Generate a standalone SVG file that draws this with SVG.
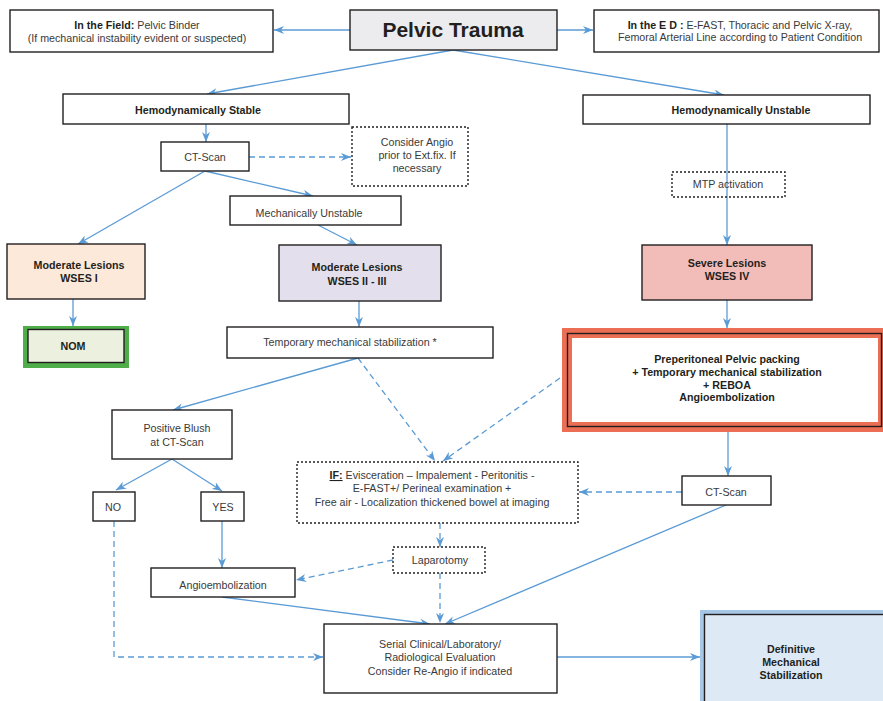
<svg xmlns="http://www.w3.org/2000/svg" width="883" height="701" viewBox="0 0 883 701">
  <defs>
    <marker id="ah" viewBox="0 0 10 8" refX="10" refY="4" markerWidth="10" markerHeight="8" orient="auto" markerUnits="userSpaceOnUse">
      <path d="M0,0 L10,4 L0,8 L3,4 z" fill="#5b9bd5"/>
    </marker>
    <style>
      text { font-family: "Liberation Sans", Arial, sans-serif; font-size: 10.7px; fill: #3a3a3a; text-anchor: middle; }
      .b { font-weight: bold; fill: #231f20; }
      .box { fill: #ffffff; stroke: #231f20; stroke-width: 1.4; }
      .dot { fill: none; stroke: #231f20; stroke-width: 1.4; stroke-dasharray: 2 2; }
      .c { fill: none; stroke: #5b9bd5; stroke-width: 1.3; marker-end: url(#ah); }
      .cn { fill: none; stroke: #5b9bd5; stroke-width: 1.3; }
      .d { stroke-dasharray: 6 4; }
    </style>
  </defs>
  <rect width="883" height="701" fill="#ffffff"/>

  <!-- connectors -->
  <g id="connectors">
    <path class="c" d="M350,30 L274,30"/>
    <path class="c" d="M557,30 L593,30"/>
    <path class="c" d="M453,50 L207,94"/>
    <path class="c" d="M453,50 L724,95"/>
    <path class="c" d="M206,124 L206,142"/>
    <path class="c d" d="M249,157 L351,157"/>
    <path class="c" d="M205,171 L313,196"/>
    <path class="c" d="M205,171 L78,244"/>
    <path class="c" d="M318,225 L357,245"/>
    <path class="c" d="M73,299 L73,326"/>
    <path class="c" d="M359,301 L359,327"/>
    <path class="c" d="M727,124 L727,245"/>
    <path class="c" d="M727,300 L727,328"/>
    <path class="c" d="M358,358 L173,410"/>
    <path class="c d" d="M358,358 L435,461"/>
    <path class="c d" d="M560,378 L443,461"/>
    <path class="c" d="M172,459 L116,490"/>
    <path class="c" d="M172,459 L222,491"/>
    <path class="c" d="M222,521 L222,568"/>
    <path class="c d" d="M114,521 L114,657 L323,657"/>
    <path class="c d" d="M393,560 L296,580"/>
    <path class="c d" d="M440,523 L440,547"/>
    <path class="c d" d="M440,573 L440,623"/>
    <path class="c" d="M728,432 L728,476"/>
    <path class="c d" d="M682,492 L579,492"/>
    <path class="c" d="M222,597 L430,624"/>
    <path class="c" d="M726,505 L445,624"/>
    <path class="c" d="M557,657 L700,657"/>
  </g>

  <g id="pelvic-trauma">
    <rect class="box" x="350" y="10" width="207" height="40" style="fill:#ececee"/>
    <text class="b" x="453" y="37" style="font-size:21px">Pelvic Trauma</text>
  </g>

  <g id="in-the-field">
    <rect class="box" x="10" y="10" width="263" height="42"/>
    <text x="137" y="29"><tspan class="b">In the Field:</tspan> Pelvic Binder</text>
    <text x="137" y="42">(If mechanical instability evident or suspected)</text>
  </g>

  <g id="in-the-ed">
    <rect class="box" x="594" y="10" width="285" height="42"/>
    <text x="740" y="29"><tspan class="b">In the E D :</tspan> E-FAST, Thoracic and Pelvic X-ray,</text>
    <text x="740" y="41">Femoral Arterial Line according to Patient Condition</text>
  </g>

  <g id="hemo-stable">
    <rect class="box" x="63" y="94" width="286" height="30"/>
    <text class="b" x="198" y="114">Hemodynamically Stable</text>
  </g>

  <g id="hemo-unstable">
    <rect class="box" x="583" y="95" width="287" height="29"/>
    <text class="b" x="741" y="114">Hemodynamically Unstable</text>
  </g>

  <g id="ct-scan-1">
    <rect class="box" x="161" y="142" width="88" height="29"/>
    <text x="205" y="161">CT-Scan</text>
  </g>

  <g id="consider-angio">
    <rect class="dot" x="352" y="127" width="116" height="59"/>
    <text x="417" y="146">Consider Angio</text>
    <text x="417" y="159">prior to Ext.fix. If</text>
    <text x="417" y="172">necessary</text>
  </g>

  <g id="mech-unstable">
    <rect class="box" x="230" y="196" width="171" height="29"/>
    <text x="309" y="217">Mechanically Unstable</text>
  </g>

  <g id="moderate-1">
    <rect class="box" x="7" y="244" width="138" height="55" style="fill:#fde9d9"/>
    <text class="b" x="79" y="269">Moderate Lesions</text>
    <text class="b" x="79" y="282">WSES I</text>
  </g>

  <g id="nom">
    <rect x="23" y="326" width="106" height="42" fill="#4fae4a"/>
    <rect class="box" x="28" y="329.5" width="96" height="33" style="fill:#ebf1de"/>
    <text class="b" x="73" y="350">NOM</text>
  </g>

  <g id="moderate-2-3">
    <rect class="box" x="279" y="245" width="162" height="56" style="fill:#e4dfec"/>
    <text class="b" x="357" y="271">Moderate Lesions</text>
    <text class="b" x="357" y="285">WSES II - III</text>
  </g>

  <g id="temp-stabilization">
    <rect class="box" x="227" y="327" width="266" height="31"/>
    <text x="350" y="346">Temporary mechanical stabilization *</text>
  </g>

  <g id="mtp">
    <rect class="dot" x="672" y="172" width="113" height="25"/>
    <text x="728" y="188">MTP activation</text>
  </g>

  <g id="severe">
    <rect class="box" x="642" y="245" width="170" height="55" style="fill:#f2bcb9"/>
    <text class="b" x="727" y="267">Severe Lesions</text>
    <text class="b" x="727" y="280">WSES IV</text>
  </g>

  <g id="preperitoneal">
    <rect x="562" y="328" width="325" height="104" fill="#ec6f55"/>
    <rect x="567.5" y="333.5" width="314" height="93" fill="none" stroke="#231f20" stroke-width="1.4"/>
    <rect x="572" y="338" width="306" height="84" fill="#ffffff"/>
    <text class="b" x="727" y="363">Preperitoneal Pelvic packing</text>
    <text class="b" x="727" y="376">+ Temporary mechanical stabilization</text>
    <text class="b" x="727" y="389">+ REBOA</text>
    <text class="b" x="727" y="401">Angioembolization</text>
  </g>

  <g id="positive-blush">
    <rect class="box" x="112" y="410" width="120" height="49"/>
    <text x="177" y="432">Positive Blush</text>
    <text x="177" y="446">at CT-Scan</text>
  </g>

  <g id="no">
    <rect class="box" x="93" y="492" width="42" height="29"/>
    <text x="113" y="511">NO</text>
  </g>

  <g id="yes">
    <rect class="box" x="201" y="492" width="43" height="29"/>
    <text x="223" y="511">YES</text>
  </g>

  <g id="angioembolization">
    <rect class="box" x="151" y="568" width="144" height="29"/>
    <text x="223" y="589">Angioembolization</text>
  </g>

  <g id="if-conditions">
    <rect class="dot" x="297" y="462" width="281" height="61"/>
    <text x="432" y="479"><tspan class="b" text-decoration="underline">IF:</tspan> Evisceration – Impalement - Peritonitis -</text>
    <text x="432" y="492">E-FAST+/ Perineal examination +</text>
    <text x="432" y="506">Free air - Localization thickened bowel at imaging</text>
  </g>

  <g id="laparotomy">
    <rect class="dot" x="393" y="547" width="92" height="26"/>
    <text x="440" y="564">Laparotomy</text>
  </g>

  <g id="ct-scan-2">
    <rect class="box" x="682" y="476" width="89" height="29"/>
    <text x="726" y="496">CT-Scan</text>
  </g>

  <g id="serial-evaluation">
    <rect class="box" x="324" y="624" width="233" height="69"/>
    <text x="440" y="648">Serial Clinical/Laboratory/</text>
    <text x="440" y="661">Radiological Evaluation</text>
    <text x="440" y="675">Consider Re-Angio if indicated</text>
  </g>

  <g id="definitive">
    <rect x="700" y="610" width="187" height="95" fill="#a7c7e7"/>
    <rect x="704.5" y="614.5" width="182" height="90" fill="#dde9f5" stroke="#231f20" stroke-width="1.4"/>
    <text class="b" x="791" y="653">Definitive</text>
    <text class="b" x="791" y="666">Mechanical</text>
    <text class="b" x="791" y="679">Stabilization</text>
  </g>
</svg>
